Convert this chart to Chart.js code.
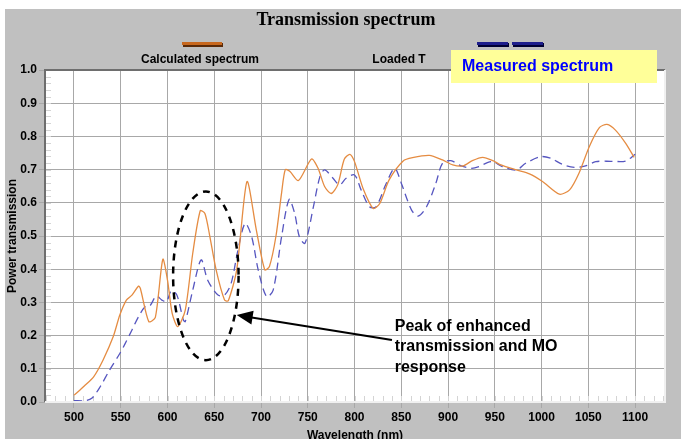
<!DOCTYPE html>
<html>
<head>
<meta charset="utf-8">
<script src="https://cdn.jsdelivr.net/npm/chart.js@4/dist/chart.umd.min.js"></script>
<style>
  body { margin: 0; background: #fff; }
  #wrap { width: 681px; height: 439px; }
</style>
</head>
<body>
<div id="wrap"><canvas id="myChart" width="681" height="439"></canvas></div>
<script>
// Calculated spectrum (orange, solid)
var calcWavelength = [500, 511, 521, 531, 542, 549, 556, 562, 569, 571, 580, 587, 595, 600, 605, 611, 619, 627, 635, 640,
  645, 652, 661, 665, 674, 685, 695, 704, 709, 716, 722, 726, 731, 740, 754, 761, 768, 775, 782, 789,
  795, 800, 809, 820, 827, 837, 852, 862, 880, 894, 905, 916, 926, 937, 948, 955, 973, 987, 1001, 1019,
  1030, 1040, 1051, 1062, 1070, 1079, 1090, 1099];
var calcValues = [0.02, 0.048, 0.076, 0.126, 0.197, 0.262, 0.307, 0.322, 0.349, 0.342, 0.242, 0.255, 0.43, 0.367, 0.267, 0.227, 0.277, 0.448, 0.576, 0.568,
  0.503, 0.398, 0.307, 0.305, 0.398, 0.664, 0.518, 0.398, 0.408, 0.50, 0.63, 0.70, 0.694, 0.667, 0.732, 0.704, 0.649, 0.628, 0.654, 0.731,
  0.746, 0.724, 0.644, 0.583, 0.598, 0.669, 0.726, 0.736, 0.743, 0.729, 0.714, 0.711, 0.727, 0.737, 0.727, 0.716, 0.699, 0.687, 0.664, 0.626,
  0.639, 0.689, 0.769, 0.827, 0.836, 0.819, 0.779, 0.737];

// Measured spectrum (blue, dashed)
var measWavelength = [500, 512, 519, 528, 538, 549, 554, 562, 569, 576, 581, 588, 594, 599, 604, 610, 617, 619, 627, 636,
  643, 654, 661, 668, 675, 683, 690, 697, 706, 713, 722, 730, 736, 741, 747, 756, 763, 768, 777, 784,
  791, 800, 807, 816, 823, 834, 843, 850, 861, 868, 877, 887, 894, 903, 914, 925, 933, 942, 948, 958,
  973, 983, 999, 1010, 1022, 1035, 1047, 1058, 1075, 1090, 1100];
var measValues = [0.004, 0.004, 0.011, 0.046, 0.096, 0.146, 0.172, 0.217, 0.257, 0.287, 0.289, 0.319, 0.307, 0.302, 0.335, 0.322, 0.247, 0.242, 0.337, 0.428,
  0.367, 0.322, 0.322, 0.357, 0.453, 0.538, 0.498, 0.398, 0.317, 0.337, 0.498, 0.61, 0.568, 0.498, 0.478, 0.588, 0.679, 0.699, 0.674, 0.654,
  0.674, 0.684, 0.639, 0.588, 0.588, 0.659, 0.704, 0.659, 0.578, 0.56, 0.588, 0.659, 0.719, 0.727, 0.711, 0.704, 0.709, 0.721, 0.724, 0.709,
  0.699, 0.719, 0.739, 0.734, 0.716, 0.707, 0.711, 0.724, 0.725, 0.726, 0.746];

var xTicks = [500, 550, 600, 650, 700, 750, 800, 850, 900, 950, 1000, 1050, 1100];
var yTicks = [0, 0.1, 0.2, 0.3, 0.4, 0.5, 0.6, 0.7, 0.8, 0.9, 1.0];

function toPoints(xs, ys) {
  return xs.map(function (x, i) { return { x: x, y: ys[i] }; });
}

var SANS = "'Liberation Sans', Arial, sans-serif";

// Backgrounds, frame, minor ticks, title, legend and the annotation
var decor = {
  id: 'decor',
  beforeDraw: function (chart) {
    var c = chart.ctx, a = chart.chartArea;
    c.save();
    c.fillStyle = '#ffffff';
    c.fillRect(0, 0, chart.width, chart.height);
    c.fillStyle = '#c0c0c0';
    c.fillRect(5, 9, chart.width - 5, chart.height - 9);
    c.fillStyle = '#ffffff';
    c.fillRect(a.left, a.top, a.right - a.left, a.bottom - a.top);
    c.restore();
  },
  beforeDatasetsDraw: function (chart) {
    var c = chart.ctx, a = chart.chartArea;
    var xs = chart.scales.x, ys = chart.scales.y;
    c.save();
    c.strokeStyle = '#d4d4d4';
    c.lineWidth = 1;
    c.beginPath();
    for (var v = 0.02; v < 1; v += 0.02) {
      var py = Math.round(ys.getPixelForValue(v)) + 0.5;
      c.moveTo(a.left, py); c.lineTo(a.left + 6, py);
    }
    for (var w = 470; w <= 1130; w += 10) {
      var px = Math.round(xs.getPixelForValue(w)) + 0.5;
      c.moveTo(px, a.bottom); c.lineTo(px, a.bottom - 6);
    }
    c.stroke();
    c.restore();
  },
  afterDraw: function (chart) {
    var c = chart.ctx, a = chart.chartArea;
    var xs = chart.scales.x, ys = chart.scales.y;
    c.save();

    // frame
    c.strokeStyle = '#6e6e6e';
    c.lineWidth = 2;
    c.beginPath();
    c.moveTo(a.left, a.bottom); c.lineTo(a.left, a.top); c.lineTo(a.right, a.top);
    c.stroke();
    c.strokeStyle = '#f0f0f0';
    c.beginPath();
    c.moveTo(a.right, a.top); c.lineTo(a.right, a.bottom); c.lineTo(a.left, a.bottom);
    c.stroke();

    // title
    c.fillStyle = '#000';
    c.font = "bold 18px 'Liberation Serif', 'Times New Roman', serif";
    c.textAlign = 'center';
    c.textBaseline = 'middle';
    c.fillText('Transmission spectrum', 346, 20);

    // legend
    c.fillStyle = '#5a2a08';
    c.fillRect(183, 43, 40, 4);
    c.fillStyle = '#c8681e';
    c.fillRect(182, 42, 40, 3);
    c.fillStyle = '#000033';
    c.fillRect(478, 43, 31, 4);
    c.fillRect(513, 43, 31, 4);
    c.fillStyle = '#1e1e8c';
    c.fillRect(477, 42, 31, 3);
    c.fillRect(512, 42, 31, 3);
    c.fillStyle = '#000';
    c.font = 'bold 12px ' + SANS;
    c.fillText('Calculated spectrum', 200, 60);
    c.fillText('Loaded T', 399, 60);

    c.fillStyle = '#ffff99';
    c.fillRect(451, 50, 206, 33);
    c.fillStyle = '#0000ff';
    c.font = 'bold 16px ' + SANS;
    c.textAlign = 'left';
    c.fillText('Measured spectrum', 462, 67);

    // dashed ellipse around the peak
    var cx = xs.getPixelForValue(641), cy = ys.getPixelForValue(0.38);
    var rx = xs.getPixelForValue(676) - cx, ry = cy - ys.getPixelForValue(0.634);
    c.strokeStyle = '#000';
    c.lineWidth = 2.5;
    c.setLineDash([7, 6]);
    c.beginPath();
    c.ellipse(cx, cy, rx, ry, 0, 0, Math.PI * 2);
    c.stroke();
    c.setLineDash([]);

    // arrow
    var tx = xs.getPixelForValue(674), ty = ys.getPixelForValue(0.262);
    var sx = xs.getPixelForValue(840), sy = ys.getPixelForValue(0.187);
    var ang = Math.atan2(ty - sy, tx - sx);
    c.lineWidth = 2;
    c.beginPath();
    c.moveTo(sx, sy);
    c.lineTo(tx - 12 * Math.cos(ang), ty - 12 * Math.sin(ang));
    c.stroke();
    c.fillStyle = '#000';
    c.beginPath();
    c.moveTo(tx, ty);
    c.lineTo(tx - 16 * Math.cos(ang) + 7 * Math.sin(ang), ty - 16 * Math.sin(ang) - 7 * Math.cos(ang));
    c.lineTo(tx - 16 * Math.cos(ang) - 7 * Math.sin(ang), ty - 16 * Math.sin(ang) + 7 * Math.cos(ang));
    c.closePath();
    c.fill();

    c.font = 'bold 16px ' + SANS;
    c.textAlign = 'left';
    var lx = xs.getPixelForValue(843);
    c.fillText('Peak of enhanced', lx, ys.getPixelForValue(0.226));
    c.fillText('transmission and MO', lx, ys.getPixelForValue(0.166));
    c.fillText('response', lx, ys.getPixelForValue(0.103));
    c.restore();
  }
};

var ctx = document.getElementById('myChart');
var myChart = new Chart(ctx, {
  type: 'line',
  data: {
    datasets: [{
      label: 'Calculated spectrum',
      data: toPoints(calcWavelength, calcValues),
      borderColor: '#e58c42',
      borderWidth: 1.3,
      pointRadius: 0,
      tension: 0.25,
      fill: false
    }, {
      label: 'Measured spectrum',
      data: toPoints(measWavelength, measValues),
      borderColor: '#5656c0',
      borderWidth: 1.3,
      borderDash: [8, 5],
      pointRadius: 0,
      tension: 0.3,
      fill: false
    }]
  },
  options: {
    responsive: false,
    animation: false,
    layout: { padding: { left: 5, right: 16, top: 70, bottom: 0 } },
    plugins: {
      legend: { display: false },
      title: { display: false },
      tooltip: { enabled: false }
    },
    scales: {
      x: {
        type: 'linear',
        min: 469,
        max: 1132,
        afterBuildTicks: function (s) { s.ticks = xTicks.map(function (v) { return { value: v }; }); },
        afterFit: function (s) { s.height = 37; },
        grid: { color: '#a8a8a8', lineWidth: 1, tickLength: 6, drawTicks: true },
        border: { display: false },
        ticks: {
          color: '#000',
          padding: 2,
          maxRotation: 0,
          font: { family: SANS, size: 12, weight: 'bold' },
          callback: function (v) { return String(v); }
        },
        title: {
          display: true,
          text: 'Wavelength (nm)',
          color: '#000',
          padding: { top: 0, bottom: -4 },
          font: { family: SANS, size: 12, weight: 'bold' }
        }
      },
      y: {
        min: 0,
        max: 1,
        afterBuildTicks: function (s) { s.ticks = yTicks.map(function (v) { return { value: v }; }); },
        afterFit: function (s) { s.width = 40; },
        grid: { color: '#a8a8a8', lineWidth: 1, tickLength: 6 },
        border: { display: false },
        ticks: {
          color: '#000',
          padding: 2,
          font: { family: SANS, size: 12, weight: 'bold' },
          callback: function (v) { return Number(v).toFixed(1); }
        },
        title: {
          display: true,
          text: 'Power transmission',
          color: '#000',
          padding: { top: 0, bottom: 0 },
          font: { family: SANS, size: 12, weight: 'bold' }
        }
      }
    }
  },
  plugins: [decor]
});
</script>
</body>
</html>
